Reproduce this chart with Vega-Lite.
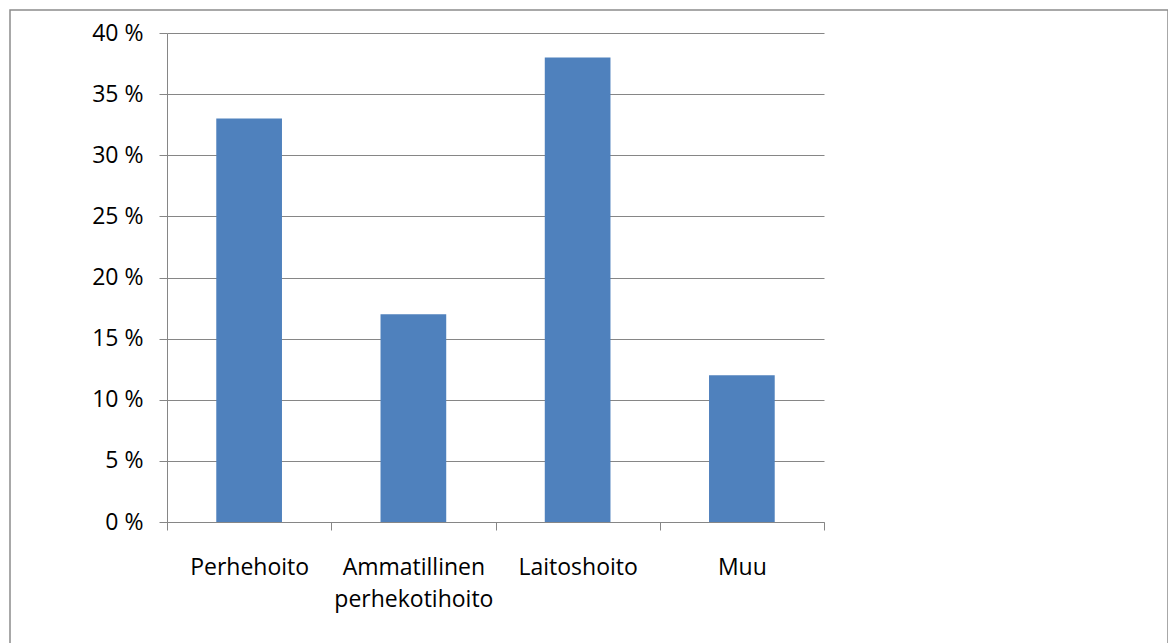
{
  "$schema": "https://vega.github.io/schema/vega-lite/v6.json",
  "autosize": "none",
  "width": 1158,
  "height": 650,
  "padding": {"left": 10, "top": 10, "right": 0, "bottom": 0},
  "background": "white",
  "config": {
    "view": {"stroke": "#8c8c8c", "strokeWidth": 1.5},
    "font": "Open Sans"
  },
  "data": {
    "values": [
      {"category": "Perhehoito", "value": 33},
      {"category": "Ammatillinen perhekotihoito", "value": 17},
      {"category": "Laitoshoito", "value": 38},
      {"category": "Muu", "value": 12}
    ]
  },
  "mark": {"type": "bar", "color": "#4F81BD", "width": {"band": 0.4}},
  "encoding": {
    "x": {
      "field": "category",
      "type": "nominal",
      "sort": null,
      "scale": {"range": [157, 814], "paddingInner": 0, "paddingOuter": 0},
      "axis": {
        "title": null,
        "offset": -138,
        "labelAngle": 0,
        "tickBand": "extent",
        "tickSize": 8,
        "tickColor": "#868686",
        "domainColor": "#868686",
        "labelFontSize": 23,
        "labelColor": "#000000",
        "labelPadding": 26,
        "labelLineHeight": 32,
        "labelExpr": "indexof(datum.label, ' ') > 0 ? split(datum.label, ' ') : datum.label",
        "grid": false
      }
    },
    "y": {
      "field": "value",
      "type": "quantitative",
      "scale": {"domain": [0, 40], "range": [512, 23], "nice": false},
      "axis": {
        "title": null,
        "offset": -157,
        "values": [0, 5, 10, 15, 20, 25, 30, 35, 40],
        "labelExpr": "datum.value + ' %'",
        "tickSize": 8,
        "tickColor": "#868686",
        "domainColor": "#868686",
        "gridColor": "#868686",
        "grid": true,
        "labelFontSize": 23,
        "labelColor": "#000000",
        "labelPadding": 16
      }
    }
  }
}
